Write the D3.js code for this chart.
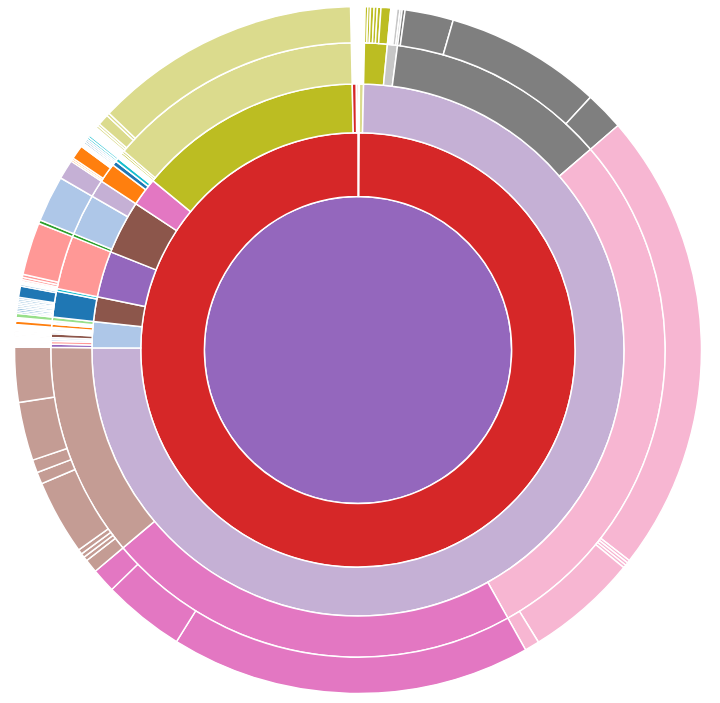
<!DOCTYPE html>
<html>
<head>
<meta charset="utf-8">
<style>
  body { margin: 0; background: #fff; }
  svg { display: block; }
  path { stroke: #fff; stroke-width: 1.5; fill-rule: evenodd; }
</style>
</head>
<body>
<div id="chart"></div>
<script src="https://cdn.jsdelivr.net/npm/d3@7"></script>
<script>
// node names, one per colour of the category20 palette
var names = ["alpha", "beta", "gamma", "delta", "epsilon", "zeta", "eta", "theta",
  "iota", "kappa", "lambda", "mu", "nu", "xi", "omicron", "pi", "rho", "sigma", "tau", "upsilon"];
var palette = ["#1f77b4", "#aec7e8", "#ff7f0e", "#ffbb78", "#2ca02c", "#98df8a", "#d62728", "#ff9896",
  "#9467bd", "#c5b0d5", "#8c564b", "#c49c94", "#e377c2", "#f7b6d2", "#7f7f7f", "#c7c7c7",
  "#bcbd22", "#dbdb8d", "#17becf", "#9edae5"];

// leaf sizes; a number is a leaf, [name, kids] is a group
var kappaKids = [
  ["rho", [0.45, 0.45, 0.6, 0.55, 0.6, 1.65]],
  ["pi", [0.25, 0.25, 0.25, 0.25, 0.55, 0.35]],
  ["omicron", [0.5, 8.2, 26.5, 6.6]],
  ["xi", [78.6, 0.5, 0.5, 0.5, 19.0, 2.5]],
  ["nu", [61.1, 13.9, 4.1]],
  ["mu", [2.3, 0.7, 0.7, 0.8, 12.7, 2.0, 2.2, 9.9, 9.3]]
];
var betaKids = [
  ["iota", [0.15, 0.15, 0.15, 0.15]],
  ["theta", [0.15, 0.2, 0.2]],
  0.35, 0.35,
  ["lambda", [0.2, 0.25, 0.25]],
  0.3, 0.3, 0.3, 0.3,
  ["gamma", [0.6]],
  0.3, 0.3,
  ["zeta", [0.7]]
];
var lambdaKidsA = [
  ["alpha", [0.3, 0.3, 0.3, 0.3, 0.3, 0.3, 0.3, 0.3, 0.3, 1.9, 0.3]],
  ["tau", [0.25, 0.25]]
];
var iotaKids = [
  ["theta", [0.3, 0.4, 0.5, 8.9]]
];
var lambdaKidsB = [
  ["epsilon", [0.6]],
  ["beta", [7.8]],
  ["kappa", [3.3]]
];
var nuKids = [
  ["gamma", [0.3, 0.3, 2.4, 0.25, 0.25, 0.2]],
  ["alpha", [0.3, 0.3, 0.3]],
  ["tau", [0.35, 0.35]],
  0.3, 0.3, 0.3
];
var rhoKids = [
  0.4, 0.4,
  ["sigma", [0.4, 0.4, 1.9, 0.5, 45.2]]
];
var etaKids = [
  ["sigma", [0.25, 0.25, 0.2, 0.2]],
  ["kappa", kappaKids],
  ["beta", betaKids],
  ["lambda", lambdaKidsA],
  ["iota", iotaKids],
  ["lambda", lambdaKidsB],
  ["nu", nuKids],
  ["rho", rhoKids],
  0.9, 0.35
];
var rootKids = [0.3, ["eta", etaKids]];

function build(name, kids) {
  return {
    name: name,
    children: kids.map(function(k, i) {
      return typeof k === "number" ? { name: name + "-" + i, value: k } : build(k[0], k[1]);
    })
  };
}

var width = 720, height = 703, radius = 343.5;

var color = d3.scaleOrdinal().domain(names).range(palette);
var y = d3.scaleSqrt().domain([0, 1]).range([0, radius]);

var root = d3.hierarchy(build("iota", rootKids))
  .sum(function(d) { return d.value || 0; });

d3.partition().size([2 * Math.PI, 1])(root);

var arc = d3.arc()
  .startAngle(function(d) { return d.x0; })
  .endAngle(function(d) { return d.x1; })
  .innerRadius(function(d) { return y(d.y0); })
  .outerRadius(function(d) { return y(d.y1); });

var svg = d3.select("#chart").append("svg")
  .attr("width", width)
  .attr("height", height)
  .append("g")
  .attr("transform", "translate(358,350)");

svg.selectAll("path")
  .data(root.descendants())
  .enter().append("path")
  .attr("d", arc)
  .style("fill", function(d) { return color((d.children ? d : d.parent).data.name); });
</script>
</body>
</html>
